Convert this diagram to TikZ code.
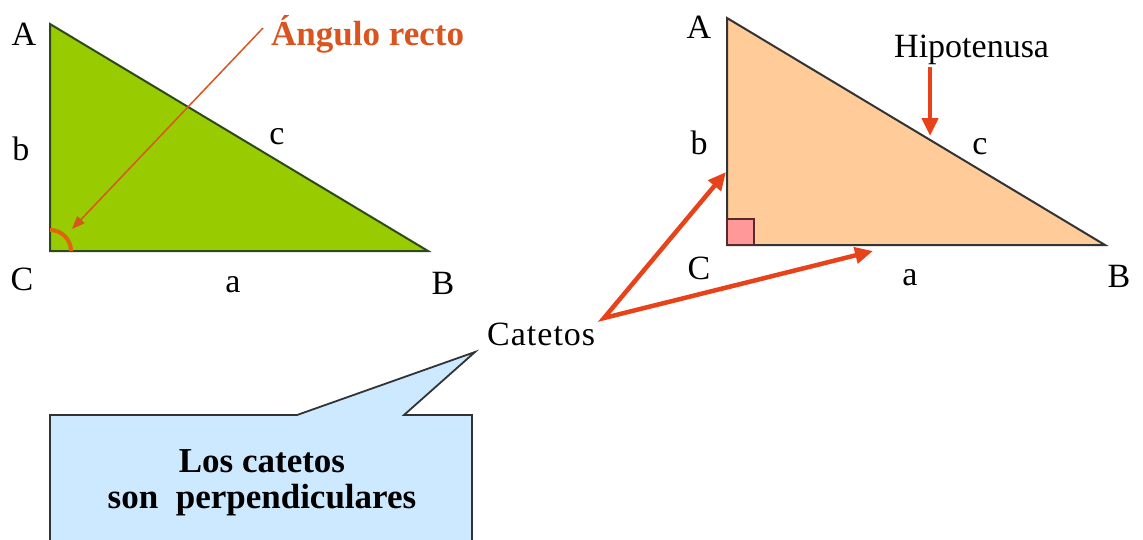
\documentclass[tikz,border=0pt]{standalone}
\usepackage{fontspec}
\setmainfont{Liberation Serif}
\usetikzlibrary{arrows.meta}
\definecolor{tgreen}{HTML}{99CC00}
\definecolor{tgreenline}{HTML}{2F4A1A}
\definecolor{tpeach}{HTML}{FFCC99}
\definecolor{tdark}{HTML}{333333}
\definecolor{tpink}{HTML}{FF9999}
\definecolor{tpinkline}{HTML}{5A2A2A}
\definecolor{tred}{HTML}{E8421A}
\definecolor{torange}{HTML}{D9541E}
\definecolor{tarc}{HTML}{E0640E}
\definecolor{tblue}{HTML}{CCE9FF}
\begin{document}
\begin{tikzpicture}[x=1pt,y=-1pt,
  lbl/.style={font=\fontsize{34}{40}\selectfont, inner sep=0pt},
  boldlbl/.style={font=\fontsize{35}{40}\selectfont\bfseries, inner sep=0pt},
  redarrow/.style={draw=tred, line width=4.5pt, line join=miter,
    {Triangle[length=18pt,width=16pt]}-{Triangle[length=18pt,width=16pt]}},
  redarrowone/.style={draw=tred, line width=4.5pt,
    -{Triangle[length=18pt,width=16pt]}},
  thinarrow/.style={draw=torange, line width=1.5pt,
    -{Triangle[length=13pt,width=10pt]}}]
\clip (0,0) rectangle (1143,539);
\fill[white] (0,0) rectangle (1143,539);

% ---------- left triangle ----------
\coordinate (LA) at (50,24);
\coordinate (LC) at (50,251);
\coordinate (LB) at (428,251);
\filldraw[fill=tgreen, draw=tgreenline, line width=2pt, line join=miter] (LA) -- (LC) -- (LB) -- cycle;
\draw[tarc, line width=4pt] (71,251) .. controls (71,239.4) and (61.6,230) .. (50,230);
\node[lbl] (lA) at (24,34) {A};
\node[lbl] (lb) at (21,149) {b};
\node[lbl] (lC) at (22,279) {C};
\node[lbl] (la) at (233,285) {a};
\node[lbl] (lB2) at (443,283) {B};
\node[lbl] (lc) at (277,137) {c};
\node[boldlbl, text=torange, anchor=base west] (ang) at (271,45) {Ángulo recto};
\coordinate (angstart) at (263,28);
\coordinate (angend) at (72,229);
\draw[thinarrow] (angstart) -- (angend);

% ---------- right triangle ----------
\coordinate (RA) at (727,18);
\coordinate (RC) at (727,245);
\coordinate (RB) at (1105,245);
\filldraw[fill=tpeach, draw=tdark, line width=2pt, line join=miter] (RA) -- (RC) -- (RB) -- cycle;
\filldraw[fill=tpink, draw=tpinkline, line width=1.5pt] (727,219) rectangle (754,245);
\node[lbl] (rA) at (699,27) {A};
\node[lbl] (rb) at (699,143) {b};
\node[lbl] (rC) at (699,268) {C};
\node[lbl] (ra) at (910,278) {a};
\node[lbl] (rB2) at (1119,276) {B};
\node[lbl] (rc) at (980,147) {c};
\node[lbl, anchor=base west] (hip) at (894,57) {Hipotenusa};
\coordinate (hipstart) at (930,67);
\coordinate (hipend) at (930,136);
\draw[redarrowone] (hipstart) -- (hipend);

% ---------- catetos ----------
\node[lbl, anchor=base west] (cat) at (487,345) {C\kern1pt a\kern1pt t\kern1pt e\kern1pt t\kern1pt o\kern1pt s};
\coordinate (catpt) at (604,318);
\coordinate (tob) at (726,172);
\coordinate (toa) at (873,251);
\draw[redarrow] (tob) -- (catpt) -- (toa);

% ---------- callout ----------
\filldraw[fill=tblue, draw=tdark, line width=1.8pt, line join=miter]
  (50,415) -- (297,415) -- (475,352) -- (404,415) -- (472,415) -- (472,545) -- (50,545) -- cycle;
\node[boldlbl, anchor=base] (cl1) at (262,472) {Los catetos};
\node[boldlbl, anchor=base] (cl2) at (262,508) {son\ \ perpendiculares};
\end{tikzpicture}
\end{document}
